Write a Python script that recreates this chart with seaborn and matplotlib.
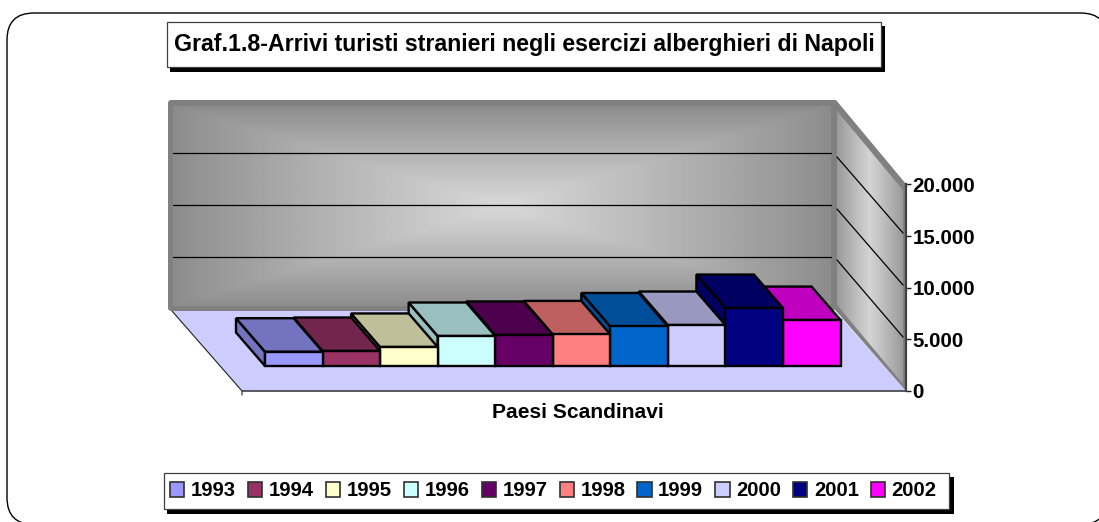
import numpy as np
import pandas as pd
import matplotlib
matplotlib.use("Agg")
import matplotlib.pyplot as plt
from matplotlib.patches import Polygon, Rectangle, FancyBboxPatch
import seaborn as sns

# ---- data -------------------------------------------------------------
anni = ["1993", "1994", "1995", "1996", "1997", "1998", "1999", "2000", "2001", "2002"]
arrivi = [1380, 1450, 1840, 2900, 3000, 3050, 3820, 3960, 5600, 4440]
colori = ["#9999ff", "#993366", "#ffffcc", "#ccffff", "#660066",
          "#ff8080", "#0066cc", "#ccccff", "#000080", "#ff00ff"]
tick_valori = [0, 5000, 10000, 15000, 20000]
tick_etichette = ["0", "5.000", "10.000", "15.000", "20.000"]
categoria = "Paesi Scandinavi"
titolo = "Graf.1.8-Arrivi turisti stranieri negli esercizi alberghieri di Napoli"

W, H = 1099, 522
sns.set_theme(style="white")
plt.rcParams["font.family"] = ["Liberation Sans", "DejaVu Sans"]
plt.rcParams["font.weight"] = "bold"
plt.rcParams["text.color"] = "black"

fig = plt.figure(figsize=(W / 100, H / 100), dpi=100, facecolor="white")


def px_axes(l, t, r, b, **kw):
    return fig.add_axes([l / W, 1 - b / H, (r - l) / W, (b - t) / H], **kw)


# ---- pixel canvas for the chart furniture -------------------------------
bg = fig.add_axes([0, 0, 1, 1], zorder=0)
bg.set_xlim(0, W)
bg.set_ylim(H, 0)
bg.axis("off")

R = 27
bg.add_patch(FancyBboxPatch((7 + R, 13 + R), 1100.5 - 2 * R, 511.5 - 2 * R,
                            boxstyle=f"round,pad={R},rounding_size={R}",
                            fc="white", ec="black", lw=1.0, zorder=0.1))

# floor
bg.add_patch(Polygon([(172, 311), (835, 311), (906, 391), (242, 391)],
                     fc="#ccccff", ec="none", zorder=0.5))
bg.plot([172, 242, 242], [311, 391, 395], color="#202020", lw=0.8, zorder=0.6)
bg.plot([242, 906], [391, 391], color="#404040", lw=1.2, zorder=0.6)


def gradient(extent, fn, clip=None):
    ny, nx = 120, 240
    v, u = np.mgrid[-1:1:ny * 1j, -1:1:nx * 1j]
    im = bg.imshow(fn(u, v), extent=extent, cmap="gray", vmin=0, vmax=1,
                   aspect="auto", interpolation="bilinear", zorder=1)
    if clip is not None:
        im.set_clip_path(clip)
    return im


# back wall
bg.add_patch(FancyBboxPatch((168, 100), 667, 211, boxstyle="round,pad=0,rounding_size=3",
                            fc="#808080", ec="none", zorder=0.9))
gradient((173, 831, 306, 106),
         lambda u, v: 0.55 + 0.30 * (1 - np.maximum(np.abs(u), np.abs(v))) ** 0.9)

# side wall
outer = [(831, 100), (836, 100), (906, 184), (906, 391), (836, 311), (831, 306)]
bg.add_patch(Polygon(outer, fc="#808080", ec="none", zorder=0.9))
inner = Polygon([(837, 111), (903, 190), (903, 384), (837, 305)], fc="none", ec="none",
                transform=bg.transData, zorder=1)
bg.add_patch(inner)
gradient((837, 903, 384, 111),
         lambda u, v: 0.60 + 0.23 * (1 - np.abs(u)) ** 0.9, clip=inner)
bg.set_xlim(0, W)
bg.set_ylim(H, 0)
for y in (153, 205, 257):
    bg.plot([173, 831], [y, y], color="black", lw=0.9, zorder=2)
for y0, y1 in ((157, 233), (209, 285), (260, 337)):
    bg.plot([837, 903], [y0, y1], color="black", lw=0.9, zorder=2)

# title box
bg.add_patch(Rectangle((170, 26), 715, 46, fc="black", ec="none", zorder=3))
bg.add_patch(Rectangle((166.5, 22), 714, 45, fc="white", ec="#404040", lw=0.9, zorder=3.1))
bg.text(524, 45, titolo, ha="center", va="center", fontsize=16.65, fontweight="bold",
        color="black", zorder=4)

# legend box and shadow
bg.add_patch(Rectangle((167, 477), 787, 37, fc="black", ec="none", zorder=3))
bg.add_patch(Rectangle((163.5, 473), 785.5, 36, fc="white", ec="#404040", lw=0.9, zorder=3.1))

# ---- value axis (front edge of the chart) -------------------------------
axv = px_axes(242, 184.5, 906, 391, zorder=1)
axv.patch.set_visible(False)
axv.set_xlim(0, 1)
axv.set_ylim(0, 20000)
for s in ("top", "left", "bottom"):
    axv.spines[s].set_visible(False)
axv.spines["right"].set_color("#404040")
axv.spines["right"].set_linewidth(1.6)
axv.yaxis.tick_right()
axv.set_yticks(tick_valori, tick_etichette, fontsize=14.8, fontweight="bold", color="black")
axv.tick_params(axis="y", length=3.5, width=1.0, color="#202020", pad=1.0, right=True)
axv.set_xticks([0.506], [categoria], fontsize=15.1, fontweight="bold", color="black")
axv.tick_params(axis="x", length=0, pad=9)

# ---- bars ---------------------------------------------------------------
ax = px_axes(265, 159, 840.5, 366, zorder=2)
ax.patch.set_visible(False)
df = pd.DataFrame({"anno": anni, "arrivi": arrivi})
LW = 1.7
sns.barplot(data=df, x="anno", y="arrivi", hue="anno", hue_order=anni, palette=colori,
            order=anni, width=1, dodge=False, saturation=1, edgecolor="black",
            linewidth=LW, ax=ax, legend=True)
ax.set_xlim(-0.5, 9.5)
ax.set_ylim(0, 20000)
ax.axis("off")
handles, labels = ax.get_legend_handles_labels()
ax.get_legend().remove()

depth_x = -29 / 57.55
depth_y = 33.5 * 20000 / 207
n = len(anni)
bars = [c[0] for c in ax.containers]
for i, (b, col) in enumerate(zip(bars, colori)):
    x0, x1, h = b.get_x(), b.get_x() + b.get_width(), b.get_height()
    z = 3 + 3 * (n - i)
    dark = tuple(0.75 * c for c in matplotlib.colors.to_rgb(col))
    b.set_zorder(z + 2)
    b.set_clip_on(False)
    b.set_joinstyle("miter")
    ax.add_patch(Polygon([(x0, 0), (x0, h), (x0 + depth_x, h + depth_y), (x0 + depth_x, depth_y)],
                         fc=dark, ec="black", lw=LW, zorder=z, clip_on=False, joinstyle="miter"))
    ax.add_patch(Polygon([(x0, h), (x1, h), (x1 + depth_x, h + depth_y), (x0 + depth_x, h + depth_y)],
                         fc=dark, ec="black", lw=LW, zorder=z + 1, clip_on=False, joinstyle="miter"))

# ---- legend -------------------------------------------------------------
leg = fig.legend(handles, labels, ncol=10, loc="center",
                 bbox_to_anchor=(553.5 / W, 1 - 491 / H),
                 prop={"family": "Liberation Sans", "weight": "bold", "size": 14.6},
                 frameon=False, borderaxespad=0, borderpad=0,
                 handlelength=0.70, handleheight=0.70, handletextpad=0.32,
                 columnspacing=0.60, labelspacing=0, labelcolor="black")
leg.set_zorder(10)
for h in leg.legend_handles:
    h.set_edgecolor("#303030")
    h.set_linewidth(1.2)

fig.savefig("out.png", dpi=100, facecolor="white")
